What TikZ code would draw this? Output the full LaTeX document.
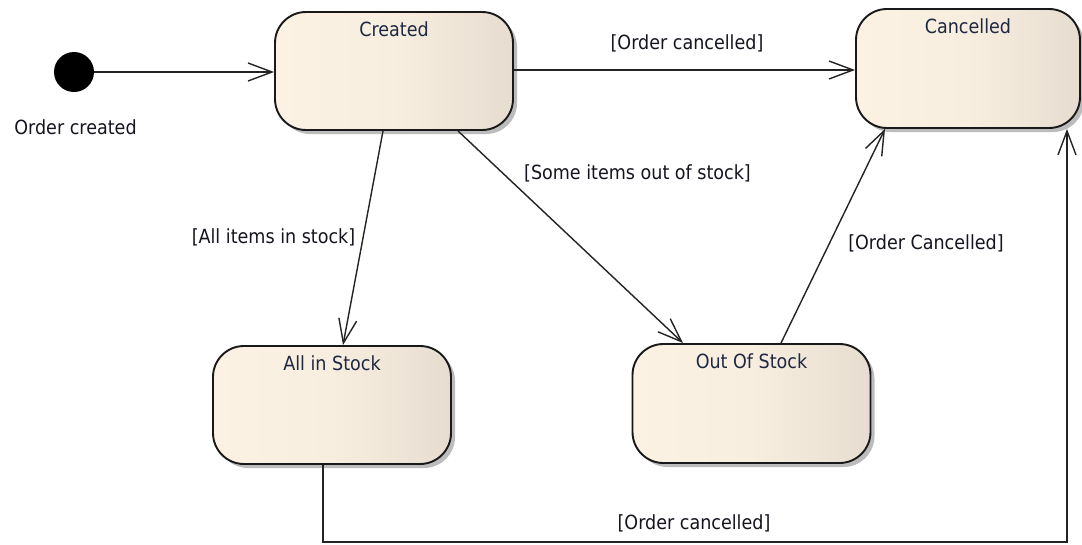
\documentclass[tikz,border=0pt]{standalone}
\usepackage{fontspec}
\setmainfont{DejaVu Sans Condensed}
\usetikzlibrary{arrows.meta,shadows}
\definecolor{stateL}{RGB}{252,242,228}
\definecolor{stateM}{RGB}{248,238,224}
\definecolor{stateR}{RGB}{230,221,208}
\definecolor{border}{RGB}{25,25,25}
\definecolor{conn}{RGB}{35,35,35}
\definecolor{nametxt}{RGB}{30,40,65}
\definecolor{lbltxt}{RGB}{22,20,30}
\begin{document}
\begin{tikzpicture}[x=1pt,y=-1pt,
  every node/.style={font=\fontsize{19.5}{22}\selectfont},
  statebox/.style={draw=border, line width=1.9pt, rounded corners=31pt,
    left color=stateL, right color=stateR, middle color=stateM,
    minimum width=238pt, minimum height=118pt, inner sep=0pt,
    drop shadow={shadow xshift=4pt, shadow yshift=-4pt, fill=black!35, opacity=0.75}},
  statename/.style={anchor=north, yshift=-10pt, text=nametxt, inner sep=0pt},
  guard/.style={text=lbltxt, inner sep=0pt},
  trans/.style={draw=conn, line width=1.4pt, -{Straight Barb[length=24pt,width=18pt,line width=1.4pt]}},
  plain/.style={draw=conn, line width=1.4pt}
]
\useasboundingbox (0,0) rectangle (1082,544);
\fill[white] (0,0) rectangle (1082,544);

% initial state
\node[circle, fill=black, minimum size=40pt, inner sep=0pt] (init) at (74,72) {};
\node[guard] (initlbl) at (75.5,127) {Order created};

% states
\node[statebox, label={[statename]north:Created}] (created) at (394,71) {};
\node[statebox, minimum width=224pt, minimum height=119pt, label={[statename]north:Cancelled}] (cancelled) at (968,68.5) {};
\node[statebox, label={[statename]north:All in Stock}] (allin) at (332,405) {};
\node[statebox, minimum height=119pt, label={[statename]north:Out Of Stock}] (outstock) at (751.5,403.5) {};

\coordinate (corner) at (1067,542);

% transitions
\draw[trans] (init.east) -- (created.west |- init.east);
\draw[trans] (created.east |- 0,70) -- (cancelled.west |- 0,70);
\draw[trans] ([xshift=-11pt]created.south) -- ([xshift=11pt]allin.north);
\draw[trans] ([xshift=64pt]created.south) -- ([xshift=-68.5pt]outstock.north);
\draw[trans] ([xshift=29.5pt]outstock.north) -- ([xshift=-83pt]cancelled.south);
\draw[trans] ([xshift=-9pt]allin.south) |- (corner) -- (corner |- cancelled.south);

% guards
\node[guard] (g1) at (687,43) {[Order cancelled]};
\node[guard] (g2) at (637.5,173) {[Some items out of stock]};
\node[guard] (g3) at (273.5,237) {[All items in stock]};
\node[guard] (g4) at (926,243) {[Order Cancelled]};
\node[guard] (g5) at (694,523) {[Order cancelled]};
\end{tikzpicture}
\end{document}
